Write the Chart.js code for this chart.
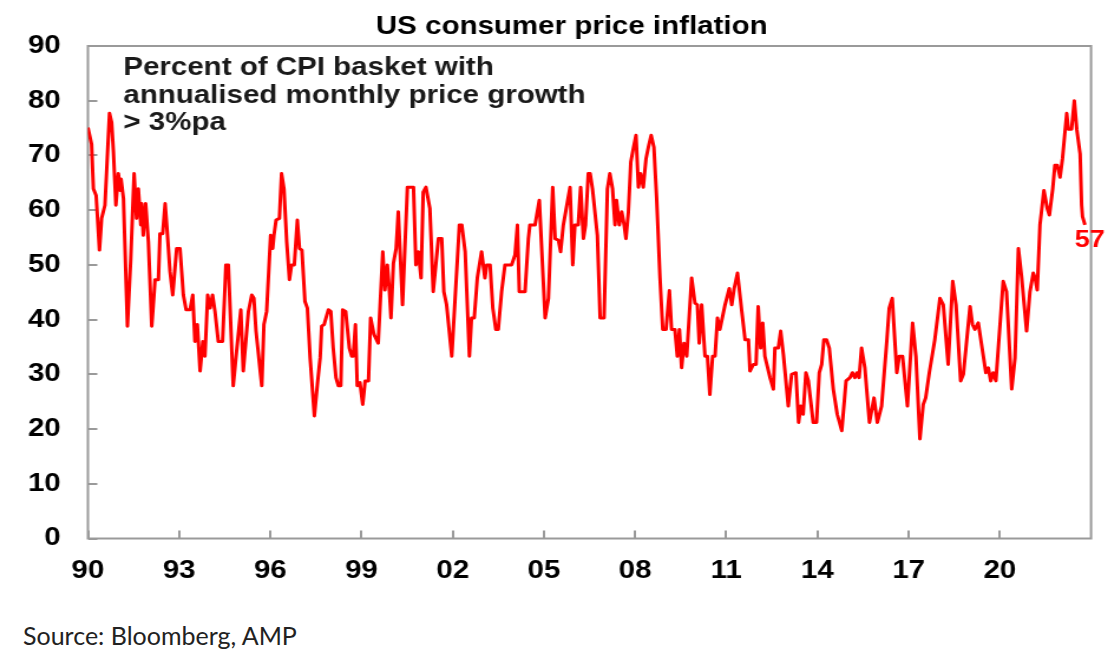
<!DOCTYPE html>
<html>
<head>
<meta charset="utf-8">
<script src="https://cdn.jsdelivr.net/npm/chart.js@4"></script>
<style>
  body { margin: 0; background: #fff; width: 1120px; height: 664px; overflow: hidden; position: relative; }
  /* the reference is drawn slightly wide, so the chart is stretched the same way */
  #wrap { position: absolute; left: 0; top: 0; width: 949px; height: 600px; transform: scaleX(1.18); transform-origin: 0 0; }
  #source { position: absolute; left: 23px; top: 620px; font: 25px Lato, "Open Sans", sans-serif; line-height: 30px; color: #222; }
</style>
</head>
<body>
<div id="wrap"><canvas id="cpiChart"></canvas></div>
<div id="source">Source: Bloomberg, AMP</div>
<script>
// % of CPI basket with annualised monthly price growth > 3%pa
const dates90 = [1990.00,1990.12,1990.18,1990.27,1990.38,1990.45,1990.56,1990.71,1990.78,1990.84,
  1990.92,1991.00,1991.06,1991.09,1991.17,1991.30,1991.41,1991.52,1991.60,1991.66,
  1991.74,1991.77,1991.82,1991.90,1991.99,1992.10,1992.21,1992.32,1992.37,1992.46,
  1992.54,1992.61,1992.70,1992.79,1992.92,1993.03,1993.14,1993.23,1993.36,1993.45,
  1993.52,1993.60,1993.69,1993.78,1993.85,1993.94,1994.02,1994.10,1994.18,1994.29,
  1994.43,1994.54,1994.62,1994.78,1994.89,1995.03,1995.11,1995.28,1995.39,1995.46,
  1995.53,1995.72,1995.79,1995.88,1996.01,1996.08,1996.12,1996.19,1996.30,1996.37,
  1996.45,1996.54,1996.63,1996.70,1996.79,1996.89,1996.96,1997.04,1997.14,1997.22,
  1997.31,1997.45,1997.55,1997.64,1997.69,1997.77,1997.91,1997.99,1998.07,1998.16,
  1998.24,1998.32,1998.38,1998.48,1998.60,1998.68,1998.73,1998.80,1998.86,1998.95,
  1999.04,1999.12,1999.23,1999.30,1999.41,1999.55,1999.70,1999.77,1999.85,1999.92,
  1999.97];
const share90 = [75.1,72.1,63.9,62.7,52.7,58.5,60.9,77.7,76.0,70.6,
  60.9,66.7,63.6,65.7,62.1,38.8,51.2,66.7,58.5,63.9,
  57.3,61.2,55.4,61.2,54.2,38.8,47.3,47.3,55.7,55.7,
  61.2,56.0,48.8,44.5,53.0,53.0,44.5,41.8,41.8,44.5,
  36.0,39.1,30.6,36.0,33.3,44.5,42.1,44.5,41.5,36.0,
  36.0,50.0,50.0,27.9,34.2,41.8,30.6,41.5,44.5,43.9,
  37.9,27.9,39.1,41.5,55.4,53.0,55.4,58.2,58.5,66.7,
  63.9,54.2,47.3,50.0,50.0,58.2,53.0,52.7,43.3,42.1,
  33.0,22.4,28.2,33.0,38.8,39.1,41.8,41.5,34.8,29.4,
  27.9,27.9,41.8,41.5,34.8,33.3,33.3,39.1,27.9,28.5,
  24.5,28.8,28.8,40.3,37.3,35.7,52.4,45.4,50.0,45.1,
  40.3];

const dates00 = [2000.05,2000.14,2000.21,2000.35,2000.51,2000.71,2000.79,2000.87,2000.96,2001.03,
  2001.12,2001.25,2001.36,2001.53,2001.64,2001.71,2001.80,2001.97,2002.08,2002.22,
  2002.30,2002.41,2002.55,2002.62,2002.71,2002.81,2002.95,2003.06,2003.12,2003.23,
  2003.32,2003.42,2003.50,2003.61,2003.72,2003.94,2004.05,2004.13,2004.19,2004.38,
  2004.49,2004.54,2004.71,2004.85,2005.04,2005.15,2005.29,2005.37,2005.48,2005.55,
  2005.64,2005.86,2005.95,2006.02,2006.13,2006.21,2006.30,2006.37,2006.46,2006.52,
  2006.60,2006.76,2006.85,2006.98,2007.09,2007.17,2007.26,2007.34,2007.39,2007.48,
  2007.56,2007.64,2007.70,2007.78,2007.86,2007.94,2008.03,2008.11,2008.18,2008.27,
  2008.36,2008.45,2008.53,2008.62,2008.71,2008.82,2008.91,2009.02,2009.13,2009.20,
  2009.31,2009.39,2009.46,2009.53,2009.61,2009.70,2009.86,2009.97];
const share00 = [50.3,53.0,59.7,42.7,64.2,64.2,50.0,52.4,47.6,63.3,
  64.2,60.3,45.1,54.8,54.8,45.1,42.7,33.3,43.9,57.3,
  57.3,52.4,33.3,40.3,40.3,47.6,52.4,47.6,50.0,50.0,
  42.1,38.2,38.2,45.1,50.0,50.0,51.8,57.3,45.1,45.1,
  54.8,57.3,57.3,61.8,40.3,43.9,64.2,54.8,54.5,52.4,
  57.3,64.2,50.0,57.3,57.3,64.2,54.8,57.3,66.7,66.7,
  63.9,55.4,40.3,40.3,63.9,66.7,63.9,57.3,61.8,57.3,
  59.7,57.3,54.8,59.7,68.8,71.2,73.7,64.2,66.7,64.2,
  69.4,71.8,73.7,71.5,62.1,47.6,38.2,38.2,45.3,38.2,
  38.2,33.3,38.2,31.2,35.7,33.3,47.6,43.0];

const dates10 = [2010.05,2010.11,2010.19,2010.30,2010.38,2010.46,2010.55,2010.63,2010.71,2010.79,
  2010.96,2011.10,2011.18,2011.26,2011.37,2011.51,2011.62,2011.73,2011.78,2011.89,
  2011.98,2012.05,2012.13,2012.20,2012.27,2012.44,2012.55,2012.60,2012.71,2012.79,
  2012.88,2013.04,2013.15,2013.29,2013.38,2013.45,2013.53,2013.62,2013.70,2013.86,
  2013.97,2014.06,2014.14,2014.21,2014.30,2014.39,2014.52,2014.65,2014.80,2014.94,
  2015.07,2015.15,2015.23,2015.30,2015.37,2015.45,2015.56,2015.71,2015.78,2015.86,
  2015.97,2016.11,2016.28,2016.36,2016.46,2016.61,2016.69,2016.80,2016.96,2017.13,
  2017.24,2017.37,2017.48,2017.56,2017.68,2017.86,2018.03,2018.14,2018.30,2018.45,
  2018.56,2018.71,2018.80,2019.02,2019.10,2019.18,2019.29,2019.54,2019.62,2019.70,
  2019.78,2019.87];
const share10 = [42.7,35.7,42.7,33.3,33.3,26.3,33.3,33.3,40.3,38.2,
  42.7,45.7,42.7,45.7,48.5,41.5,36.3,36.3,30.6,31.8,
  31.8,42.4,34.8,39.4,33.3,29.4,27.3,34.8,34.8,37.9,
  33.6,24.2,30.0,30.3,21.2,24.2,22.7,30.3,28.8,21.2,
  21.2,30.3,31.8,36.3,36.3,34.8,27.3,22.7,19.7,28.8,
  29.4,30.3,29.4,30.3,29.4,34.8,31.2,21.2,23.3,25.7,
  21.2,24.2,36.0,42.1,43.9,30.3,33.3,33.3,24.2,39.4,
  33.3,18.2,24.5,25.7,30.3,36.3,43.9,42.7,31.8,47.0,
  42.7,28.8,30.0,42.4,39.1,38.2,39.4,30.3,31.2,28.8,
  30.3,28.8];

const dates20 = [2020.11,2020.22,2020.39,2020.50,2020.61,2020.72,2020.88,2020.99,2021.10,2021.16,
  2021.23,2021.32,2021.45,2021.56,2021.63,2021.74,2021.81,2021.89,2021.98,2022.06,
  2022.20,2022.25,2022.36,2022.45,2022.53,2022.64,2022.69,2022.72,2022.80];
const share20 = [47.0,45.1,27.3,33.0,53.0,47.6,37.9,45.1,48.5,47.6,
  45.4,57.3,63.6,60.3,59.1,63.9,68.2,68.2,66.0,69.4,
  77.7,74.8,74.8,80.0,74.8,70.3,60.9,58.8,57.3];

const xTickYears = [1990, 1993, 1996, 1999, 2002, 2005, 2008, 2011, 2014, 2017, 2020];
const chartTitle = 'US consumer price inflation';
const noteLines = ['Percent of CPI basket with', 'annualised monthly price growth', '> 3%pa'];

const allDates = [...dates90, ...dates00, ...dates10, ...dates20];
const allShare = [...share90, ...share00, ...share10, ...share20];

const axisGrey = '#9a9a9a';
const fontFamily = '"Liberation Sans", Arial, sans-serif';
Chart.defaults.font.family = fontFamily;

// box round the plot area
const frame = {
    id: 'frame',
    beforeDatasetsDraw(chart) {
        const { ctx, chartArea } = chart;
        ctx.save();
        ctx.strokeStyle = axisGrey;
        ctx.lineWidth = 2;
        ctx.strokeRect(chartArea.left, chartArea.top, chartArea.width, chartArea.height);
        ctx.restore();
    }
};

// title (a bit right of the canvas centre), note in the top left, last value at the end of the line
const overlayText = {
    id: 'overlayText',
    afterDatasetsDraw(chart) {
        const { ctx, chartArea, scales } = chart;
        ctx.save();
        ctx.textBaseline = 'middle';

        ctx.font = 'bold 25px ' + fontFamily;
        ctx.fillStyle = '#000';
        ctx.textAlign = 'center';
        ctx.fillText(chartTitle, (chartArea.left + chartArea.right) / 2 - 15, 27);

        ctx.fillStyle = '#1a1a1a';
        ctx.textAlign = 'left';
        noteLines.forEach((line, i) => {
            ctx.fillText(line, chartArea.left + 30, chartArea.top + 22.5 + i * 27.5);
        });

        const lastX = allDates[allDates.length - 1];
        const lastY = allShare[allShare.length - 1];
        ctx.font = 'bold 23px ' + fontFamily;
        ctx.fillStyle = '#ff0000';
        ctx.textAlign = 'center';
        ctx.fillText(String(Math.round(lastY)),
            scales.x.getPixelForValue(lastX) + 4,
            scales.y.getPixelForValue(lastY) + 16);
        ctx.restore();
    }
};

const ctx = document.getElementById('cpiChart').getContext('2d');
const chart = new Chart(ctx, {
    type: 'line',
    data: {
        datasets: [{
            label: 'Share of CPI basket',
            data: allDates.map((d, i) => ({ x: d, y: allShare[i] })),
            borderColor: '#ff0000',
            borderWidth: 3,
            borderJoinStyle: 'round',
            pointRadius: 0,
            tension: 0,
            fill: false
        }]
    },
    options: {
        responsive: true,
        maintainAspectRatio: false,
        animation: false,
        layout: { padding: { left: 0, right: 24.4, top: 43.5, bottom: 0 } },
        plugins: {
            legend: { display: false },
            tooltip: { enabled: false },
            title: { display: false }
        },
        scales: {
            x: {
                type: 'linear',
                min: 1990,
                max: 2023,
                afterBuildTicks: axis => { axis.ticks = xTickYears.map(v => ({ value: v })); },
                afterFit: axis => { axis.height = 61.5; },
                grid: { drawOnChartArea: false, tickLength: -8, color: axisGrey, lineWidth: 2 },
                border: { display: false },
                ticks: {
                    padding: 26,
                    color: '#000',
                    maxRotation: 0,
                    autoSkip: false,
                    font: { size: 25, weight: 'bold' },
                    callback: v => String(v).slice(2)
                }
            },
            y: {
                min: 0,
                max: 90,
                afterFit: axis => { axis.width = 74.5; },
                grid: { drawOnChartArea: false, tickLength: -8, color: axisGrey, lineWidth: 2 },
                border: { display: false },
                ticks: {
                    stepSize: 10,
                    padding: 31,
                    color: '#000',
                    font: { size: 25, weight: 'bold' }
                }
            }
        }
    },
    plugins: [frame, overlayText]
});
</script>
</body>
</html>
